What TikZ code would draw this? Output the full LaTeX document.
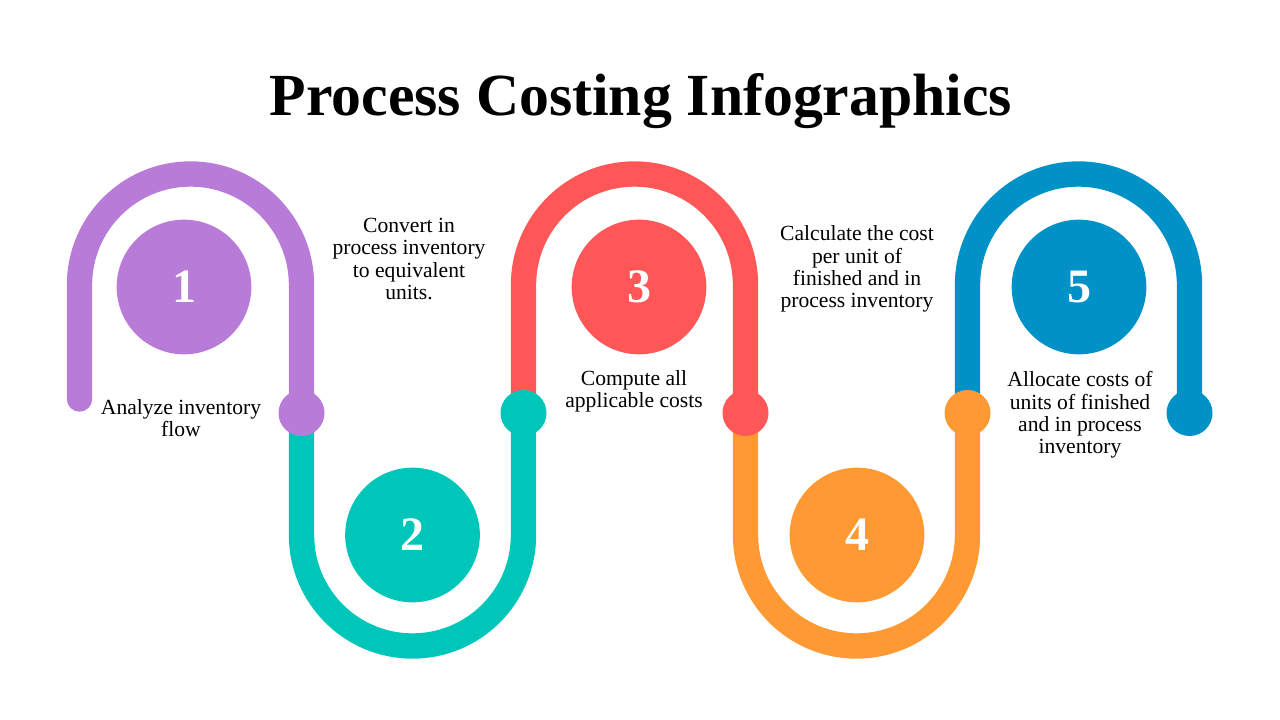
\documentclass[tikz,border=0pt]{standalone}
\usepackage{fontspec}
\setmainfont{Liberation Serif}
\usepackage{xcolor}
\usepackage{tikz}

\definecolor{cPurple}{RGB}{184,124,216}
\definecolor{cTeal}{RGB}{0,198,186}
\definecolor{cRed}{RGB}{255,87,87}
\definecolor{cOrange}{RGB}{255,153,51}
\definecolor{cBlue}{RGB}{0,145,199}

\begin{document}
\begin{tikzpicture}[x=0.75pt,y=0.75pt,yscale=-1,xscale=1,
	pipe/.style={line width=19pt,line cap=round},
	numdisc/.style={circle,minimum size=101pt,inner sep=0pt,text=white,font=\bfseries\fontsize{36}{36}\selectfont},
	knob/.style={circle,minimum size=34.5pt,inner sep=0pt},
	caption/.style={inner sep=0.75pt,align=center,font=\fontsize{16.2}{16.7}\selectfont}]
	\path[use as bounding box] (0,0) rectangle (1280,720);
	
	% Title
	\node (title) at (641,101) {\bfseries\fontsize{44.8}{44.8}\selectfont Process Costing Infographics};
	
	%Knob positions
	\coordinate (k0) at (79.5,399);
	
	%Arch 1
	\draw [pipe,cPurple] (k0) -- (79.5,285) arc[start angle=180,end angle=360,radius=111] -- (301.5,413) coordinate (k1);
	%U 2
	\draw [pipe,cTeal,line cap=butt] (k1) -- (301.5,535) arc[start angle=180,end angle=0,radius=111] -- (523.5,413) coordinate (k2);
	%Arch 3
	\draw [pipe,cRed,line cap=butt] (k2) -- (523.5,285) arc[start angle=180,end angle=360,radius=111] -- (745.5,413) coordinate (k3);
	%U 4
	\draw [pipe,cOrange,line cap=butt] (k3) -- (745.5,535) arc[start angle=180,end angle=0,radius=111] -- (967.5,413) coordinate (k4);
	%Arch 5
	\draw [pipe,cBlue,line cap=butt] (k4) -- (967.5,285) arc[start angle=180,end angle=360,radius=111] -- (1189.5,413) coordinate (k5);
	
	%Knobs
	\node (d1) [knob,fill=cPurple] at (k1) {};
	\node (d2) [knob,fill=cTeal] at (k2) {};
	\node (d3) [knob,fill=cRed] at (k3) {};
	\node (d4) [knob,fill=cOrange] at (k4) {};
	\node (d5) [knob,fill=cBlue] at (k5) {};
	
	%Number discs
	\node (c1) [numdisc,fill=cPurple] at (184,287) {1};
	\node (c2) [numdisc,fill=cTeal] at (412.5,535) {2};
	\node (c3) [numdisc,fill=cRed] at (639,287) {3};
	\node (c4) [numdisc,fill=cOrange] at (857,535) {4};
	\node (c5) [numdisc,fill=cBlue] at (1079,287) {5};
	
	% Text Node
	\node (t1) [caption] at (181,418) {Analyze inventory\\flow};
	% Text Node
	\node (t2) [caption] at (409,259) {Convert in\\process inventory\\to equivalent\\units.};
	% Text Node
	\node (t3) [caption] at (634,391) {Compute all\\applicable costs};
	% Text Node
	\node (t4) [caption] at (857,269) {Calculate the cost\\per unit of\\finished and in\\process inventory};
	% Text Node
	\node (t5) [caption] at (1080,415) {Allocate costs of\\units of finished\\and in process\\inventory};
\end{tikzpicture}
\end{document}
